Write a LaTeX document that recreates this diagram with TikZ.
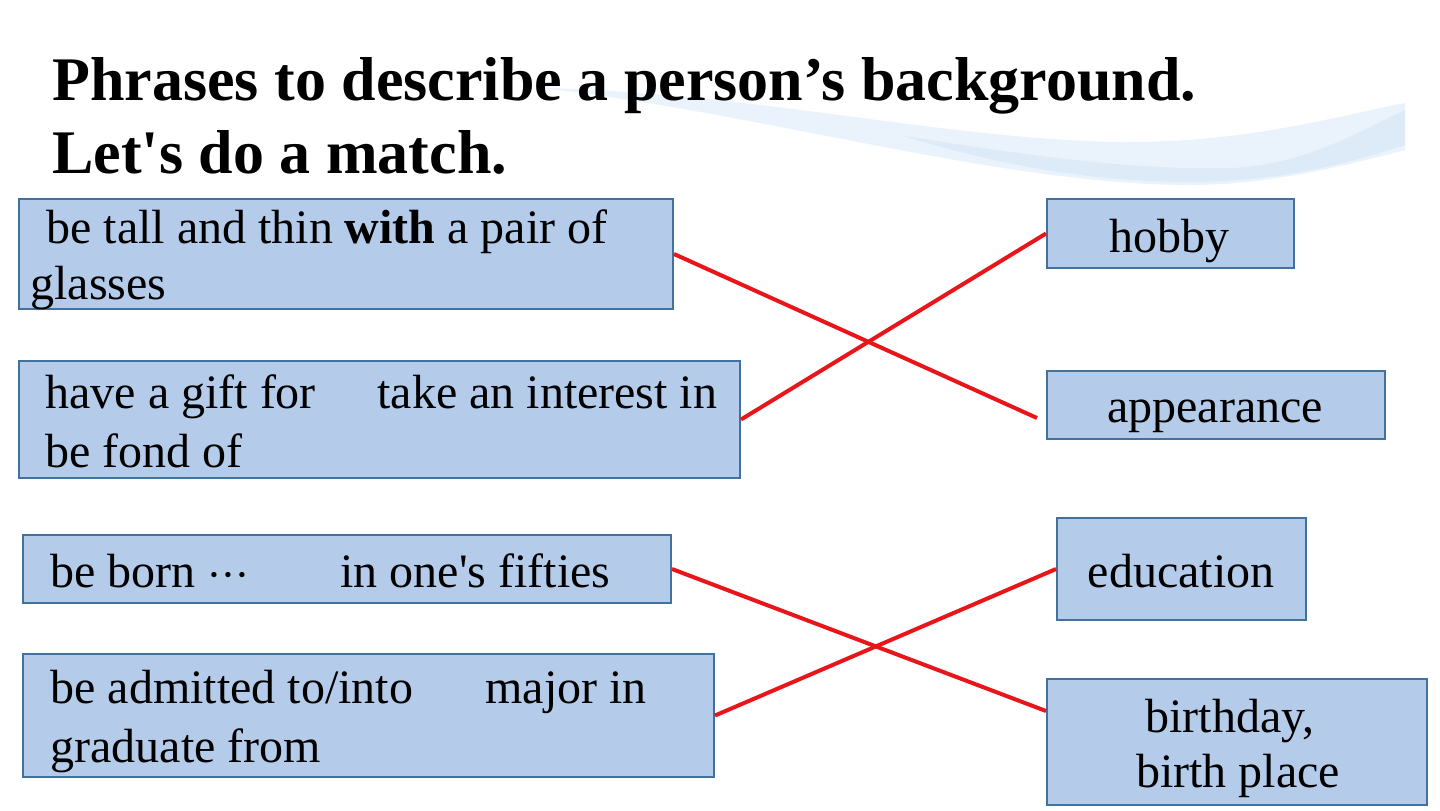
\documentclass[tikz,border=0pt]{standalone}
\usepackage{fontspec}
\setmainfont{Liberation Serif}
\definecolor{boxfill}{HTML}{B4CBEA}
\definecolor{boxline}{HTML}{41719C}
\definecolor{matchred}{HTML}{E8151B}
\definecolor{wave}{HTML}{EAF3FC}
\definecolor{wavedeep}{HTML}{DAEAF9}
\tikzset{
  box/.style={rectangle, draw=boxline, fill=boxfill, line width=1pt, anchor=north west, inner sep=0pt},
  txt/.style={inner sep=0pt, anchor=base west, font=\fontsize{24}{29}\selectfont},
  ctxt/.style={txt, anchor=base},
  heading/.style={inner sep=0pt, anchor=base west, font=\fontsize{31}{37}\selectfont\bfseries},
  match/.style={draw=matchred, line width=2pt},
}

\begin{document}
\begin{tikzpicture}[x=0.5pt, y=-0.5pt]
			\useasboundingbox (0,0) rectangle (1440,810);

			% Onda di sfondo
			\fill[wave] (540,88) .. controls (750,92) and (950,140) .. (1120,142) .. controls (1250,143) and (1340,115) .. (1405,103) -- (1405,150) .. controls (1330,170) and (1260,185) .. (1190,185) .. controls (1000,185) and (760,112) .. (540,88) -- cycle;
			\fill[wavedeep, opacity=0.8] (900,135) .. controls (1050,160) and (1150,170) .. (1230,168) .. controls (1310,165) and (1370,125) .. (1405,110) -- (1405,145) .. controls (1330,170) and (1260,182) .. (1190,182) .. controls (1080,182) and (980,160) .. (900,135) -- cycle;

			% Titolo
			\node[heading] (title1) at (52,100) {Phrases to describe a person’s background.};
			\node[heading] (title2) at (52,173) {Let\textquotesingle s do a match.};

			% Riquadri a sinistra
			\node[box, minimum width=327pt, minimum height=55pt] (tall) at (18,198) {};
			\node[box, minimum width=360.5pt, minimum height=58.5pt] (gift) at (18,360) {};
			\node[box, minimum width=324pt, minimum height=34pt] (born) at (22,534) {};
			\node[box, minimum width=345.5pt, minimum height=61.5pt] (admit) at (22,653) {};

			% Riquadri a destra
			\node[box, minimum width=123.5pt, minimum height=34.5pt] (hobby) at (1046,198) {};
			\node[box, minimum width=169pt, minimum height=34pt] (looks) at (1046,370) {};
			\node[box, minimum width=124.5pt, minimum height=51pt] (edu) at (1056,517) {};
			\node[box, minimum width=190pt, minimum height=63pt] (birth) at (1046,678) {};

			% Testi
			\node[txt] (tallA) at (46,243) {be tall and thin \textbf{with} a pair of};
			\node[txt] (tallB) at (30,299) {glasses};
			\node[txt] (giftA) at (45,408) {have a gift for};
			\node[txt] (giftB) at (377,408) {take an interest in};
			\node[txt] (giftC) at (45,467) {be fond of};
			\node[txt] (bornA) at (50,587) {be born ${\cdot}{\cdot}{\cdot}$};
			\node[txt] (bornB) at (340,587) {in one\textquotesingle s fifties};
			\node[txt] (admitA) at (50,703) {be admitted to/into};
			\node[txt] (admitB) at (485,703) {major in};
			\node[txt] (admitC) at (50,762) {graduate from};
			\node[ctxt] (hobbyT) at (1169,252) {hobby};
			\node[ctxt] (looksT) at (1215,422) {appearance};
			\node[ctxt] (eduT) at (1181,587) {education};
			\node[ctxt] (birthA) at (1230,732) {birthday,};
			\node[ctxt] (birthB) at (1238,787) {birth place};

			% Collegamenti
			\draw[match] (tall.east) -- ([xshift=-4.5pt, yshift=-6.5pt]looks.west);
			\draw[match] (gift.east) -- (hobby.west);
			\draw[match] (born.east) -- ([yshift=15.5pt]birth.west);
			\draw[match] (admit.east) -- (edu.west);
		\end{tikzpicture}
\end{document}
